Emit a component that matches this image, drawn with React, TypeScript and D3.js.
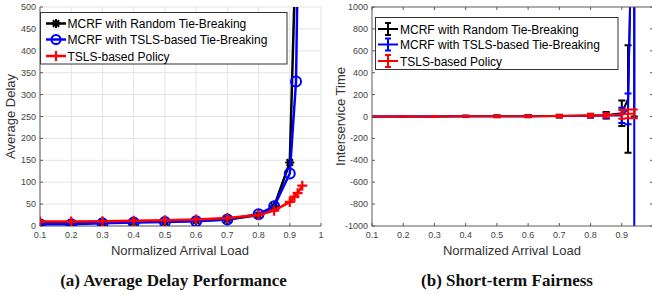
import { useEffect, useRef } from 'react'
import * as d3 from 'd3'

// (a) average delay
const randomLoads = [0.1, 0.2, 0.3, 0.4, 0.5, 0.6, 0.7, 0.8, 0.85, 0.9, 0.92]
const randomDelay = [7, 7, 8, 9, 10, 12, 15, 25, 45, 145, 650]
const tslsLoads = [0.1, 0.2, 0.3, 0.4, 0.5, 0.6, 0.7, 0.8, 0.85, 0.9, 0.92, 0.94]
const tslsDelay = [4, 4, 6, 8, 9, 11, 15, 27, 45, 120, 330, 1300]
const policyLoads = [0.1, 0.2, 0.3, 0.4, 0.5, 0.6, 0.7, 0.8, 0.85, 0.9, 0.915, 0.925, 0.94]
const policyDelay = [10, 10, 11, 12, 13, 15, 18, 25, 35, 55, 67, 75, 92]

// (b) interservice time (mean and error half-width)
const fairLoads = [0.1, 0.2, 0.3, 0.4, 0.5, 0.6, 0.7, 0.8, 0.85, 0.9, 0.92, 0.94]
const randomGap = [1, 1, 1, 2, 2, 3, 4, 8, 12, 30, 160, 2700]
const randomGapErr = [3, 3, 4, 5, 8, 10, 12, 18, 30, 117, 490, 2700]
const tslsGap = [1, 1, 1, 2, 2, 3, 4, 6, 10, 10, 70, 3000]
const tslsGapErr = [2, 2, 3, 4, 6, 8, 10, 15, 25, 70, 140, 6000]
const policyGap = [1, 1, 1, 2, 2, 3, 4, 8, 10, 20, 25, 25]
const policyGapErr = [2, 2, 3, 4, 6, 8, 10, 15, 20, 40, 40, 40]

const xTicks = [0.1, 0.2, 0.3, 0.4, 0.5, 0.6, 0.7, 0.8, 0.9, 1]
const delayTicks = d3.range(0, 501, 50)
const gapTicks = d3.range(-1000, 1001, 200)
const legendLabels = ['MCRF with Random Tie-Breaking', 'MCRF with TSLS-based Tie-Breaking', 'TSLS-based Policy']

const SANS = '"Liberation Sans", Arial, sans-serif'
const SERIF = '"Liberation Serif", "Times New Roman", serif'
const AXIS = '#5a5a5a'
const TICKTXT = '#444'

function App() {
  const ref = useRef<SVGSVGElement>(null)

  useEffect(() => {
    const svg = d3.select(ref.current)
    svg.selectAll('*').remove()

    const top = 7, bottom = 226

    // ---------- left chart ----------
    const x1 = d3.scaleLinear().domain([0.1, 1]).range([40, 321])
    const y1 = d3.scaleLinear().domain([0, 500]).range([bottom, top])

    const g1 = svg.append('g')
    // grid
    g1.selectAll('.vg').data(xTicks).enter().append('line')
      .attr('x1', (d) => x1(d)).attr('x2', (d) => x1(d)).attr('y1', top).attr('y2', bottom)
      .attr('stroke', '#e3e3e3').attr('stroke-width', 1)
    g1.selectAll('.hg').data(delayTicks).enter().append('line')
      .attr('x1', 40).attr('x2', 321).attr('y1', (d) => y1(d)).attr('y2', (d) => y1(d))
      .attr('stroke', '#e3e3e3').attr('stroke-width', 1)

    const ax1 = g1.append('g')
    ax1.append('line').attr('x1', 40).attr('x2', 40).attr('y1', top).attr('y2', bottom).attr('stroke', AXIS)
    ax1.append('line').attr('x1', 40).attr('x2', 321).attr('y1', bottom).attr('y2', bottom).attr('stroke', AXIS)
    ax1.selectAll('.yt').data(delayTicks).enter().append('line')
      .attr('x1', 40).attr('x2', 43).attr('y1', (d) => y1(d)).attr('y2', (d) => y1(d)).attr('stroke', AXIS)
    ax1.selectAll('.xt').data(xTicks).enter().append('line')
      .attr('x1', (d) => x1(d)).attr('x2', (d) => x1(d)).attr('y1', bottom).attr('y2', bottom - 3).attr('stroke', AXIS)
    ax1.selectAll('.yl').data(delayTicks).enter().append('text')
      .attr('x', 36).attr('y', (d) => y1(d) + 3).attr('text-anchor', 'end')
      .attr('font-family', SANS).attr('font-size', 9).attr('fill', TICKTXT).text((d) => d)
    ax1.selectAll('.xl').data(xTicks).enter().append('text')
      .attr('x', (d) => x1(d)).attr('y', 238).attr('text-anchor', 'middle')
      .attr('font-family', SANS).attr('font-size', 9).attr('fill', TICKTXT).text((d) => d3.format('~g')(d))

    svg.append('clipPath').attr('id', 'clipA').append('rect')
      .attr('x', 40).attr('y', top).attr('width', 281).attr('height', bottom - top)
    const plot1 = g1.append('g').attr('clip-path', 'url(#clipA)')

    const line1 = d3.line<[number, number]>().x((d) => x1(d[0])).y((d) => y1(d[1]))
    const randomPts = randomLoads.map((l, i) => [l, randomDelay[i]] as [number, number])
    const tslsPts = tslsLoads.map((l, i) => [l, tslsDelay[i]] as [number, number])
    const policyPts = policyLoads.map((l, i) => [l, policyDelay[i]] as [number, number])

    const star = (g: any, cx: number, cy: number, r: number, color: string) => {
      const d = r * 0.707
      const p = `M${cx - r},${cy}L${cx + r},${cy}M${cx},${cy - r}L${cx},${cy + r}` +
        `M${cx - d},${cy - d}L${cx + d},${cy + d}M${cx - d},${cy + d}L${cx + d},${cy - d}`
      g.append('path').attr('d', p).attr('stroke', color).attr('stroke-width', 2).attr('fill', 'none')
    }
    const plus = (g: any, cx: number, cy: number, r: number, color: string) => {
      g.append('path').attr('d', `M${cx - r},${cy}L${cx + r},${cy}M${cx},${cy - r}L${cx},${cy + r}`)
        .attr('stroke', color).attr('stroke-width', 2.2).attr('fill', 'none')
    }
    const circle = (g: any, cx: number, cy: number, r: number, color: string) => {
      g.append('circle').attr('cx', cx).attr('cy', cy).attr('r', r)
        .attr('stroke', color).attr('stroke-width', 2).attr('fill', 'none')
    }

    plot1.append('path').attr('d', line1(randomPts)).attr('stroke', '#000').attr('stroke-width', 2.5).attr('fill', 'none')
    randomPts.forEach((p) => star(plot1, x1(p[0]), y1(p[1]), 4.5, '#000'))
    plot1.append('path').attr('d', line1(tslsPts)).attr('stroke', '#0000ff').attr('stroke-width', 2.5).attr('fill', 'none')
    tslsPts.forEach((p) => circle(plot1, x1(p[0]), y1(p[1]), 5, '#0000ff'))
    plot1.append('path').attr('d', line1(policyPts)).attr('stroke', '#ff0000').attr('stroke-width', 2.5).attr('fill', 'none')
    policyPts.forEach((p) => plus(plot1, x1(p[0]), y1(p[1]), 5, '#ff0000'))

    // legend a
    const lg1 = g1.append('g')
    lg1.append('rect').attr('x', 40.5).attr('y', 12.5).attr('width', 246.5).attr('height', 51.5)
      .attr('fill', '#fff').attr('stroke', '#333').attr('stroke-width', 1)
    const legY1 = [23.5, 39.5, 56]
    const legCol = ['#000', '#0000ff', '#ff0000']
    legCol.forEach((c, i) => {
      lg1.append('line').attr('x1', 46).attr('x2', 66).attr('y1', legY1[i]).attr('y2', legY1[i])
        .attr('stroke', c).attr('stroke-width', 2.5)
      if (i === 0) star(lg1, 56, legY1[i], 4.5, c)
      if (i === 1) circle(lg1, 56, legY1[i], 4.5, c)
      if (i === 2) plus(lg1, 56, legY1[i], 5, c)
      lg1.append('text').attr('x', 67.5).attr('y', legY1[i] + 4.5)
        .attr('font-family', SANS).attr('font-size', 12).attr('fill', '#000').text(legendLabels[i])
    })

    svg.append('text').attr('x', 180).attr('y', 255).attr('text-anchor', 'middle')
      .attr('font-family', SANS).attr('font-size', 13).attr('fill', '#333').text('Normalized Arrival Load')
    svg.append('text').attr('transform', `translate(15,${(top + bottom) / 2}) rotate(-90)`).attr('text-anchor', 'middle')
      .attr('font-family', SANS).attr('font-size', 13).attr('fill', '#333').text('Average Delay')
    svg.append('text').attr('x', 173.5).attr('y', 286).attr('text-anchor', 'middle')
      .attr('font-family', SERIF).attr('font-weight', 'bold').attr('font-size', 17).attr('fill', '#111')
      .text('(a) Average Delay Performance')

    // ---------- right chart ----------
    const left2 = 372, right2 = 653
    const x2 = d3.scaleLinear().domain([0.1, 1]).range([left2, right2])
    const y2 = d3.scaleLinear().domain([-1000, 1000]).range([bottom, top])
    const g2 = svg.append('g')

    svg.append('clipPath').attr('id', 'clipB').append('rect')
      .attr('x', left2).attr('y', top).attr('width', right2 - left2).attr('height', bottom - top)
    const plot2 = g2.append('g').attr('clip-path', 'url(#clipB)')

    const line2 = d3.line<[number, number]>().x((d) => x2(d[0])).y((d) => y2(d[1]))
    const series2 = [
      { mean: randomGap, err: randomGapErr, color: '#000' },
      { mean: tslsGap, err: tslsGapErr, color: '#0000ff' },
      { mean: policyGap, err: policyGapErr, color: '#ff0000' },
    ]
    series2.forEach((s) => {
      const pts = fairLoads.map((l, i) => [l, s.mean[i]] as [number, number])
      plot2.append('path').attr('d', line2(pts)).attr('stroke', s.color).attr('stroke-width', 2).attr('fill', 'none')
      fairLoads.forEach((l, i) => {
        const cx = x2(l)
        const yt = y2(s.mean[i] + s.err[i])
        const yb = y2(s.mean[i] - s.err[i])
        plot2.append('path')
          .attr('d', `M${cx},${yt}L${cx},${yb}M${cx - 3.5},${yt}L${cx + 3.5},${yt}M${cx - 3.5},${yb}L${cx + 3.5},${yb}`)
          .attr('stroke', s.color).attr('stroke-width', 2).attr('fill', 'none')
      })
    })

    const ax2 = g2.append('g')
    ax2.append('rect').attr('x', left2).attr('y', top).attr('width', right2 - left2).attr('height', bottom - top)
      .attr('fill', 'none').attr('stroke', AXIS)
    ax2.selectAll('.yt').data(gapTicks).enter().append('path')
      .attr('d', (d) => `M${left2},${y2(d)}h3M${right2},${y2(d)}h-3`).attr('stroke', AXIS)
    ax2.selectAll('.xt').data(xTicks).enter().append('path')
      .attr('d', (d) => `M${x2(d)},${bottom}v-3M${x2(d)},${top}v3`).attr('stroke', AXIS)
    ax2.selectAll('.yl').data(gapTicks).enter().append('text')
      .attr('x', left2 - 4).attr('y', (d) => y2(d) + 3).attr('text-anchor', 'end')
      .attr('font-family', SANS).attr('font-size', 9).attr('fill', TICKTXT).text((d) => d)
    ax2.selectAll('.xl').data(xTicks.slice(0, -1)).enter().append('text')
      .attr('x', (d) => x2(d)).attr('y', 238).attr('text-anchor', 'middle')
      .attr('font-family', SANS).attr('font-size', 9).attr('fill', TICKTXT).text((d) => d3.format('~g')(d))

    // legend b
    const lg2 = g2.append('g')
    lg2.append('rect').attr('x', 375.5).attr('y', 17.5).attr('width', 242.5).attr('height', 52)
      .attr('fill', '#fff').attr('stroke', '#333').attr('stroke-width', 1)
    const legY2 = [29, 44.5, 61]
    legCol.forEach((c, i) => {
      const cy = legY2[i]
      lg2.append('path')
        .attr('d', `M378,${cy}L398,${cy}M388,${cy - 6}L388,${cy + 6}M385,${cy - 6}L391,${cy - 6}M385,${cy + 6}L391,${cy + 6}`)
        .attr('stroke', c).attr('stroke-width', 2).attr('fill', 'none')
      lg2.append('text').attr('x', 400).attr('y', cy + 4.5)
        .attr('font-family', SANS).attr('font-size', 12).attr('fill', '#000').text(legendLabels[i])
    })

    svg.append('text').attr('x', 512).attr('y', 255).attr('text-anchor', 'middle')
      .attr('font-family', SANS).attr('font-size', 13).attr('fill', '#333').text('Normalized Arrival Load')
    svg.append('text').attr('transform', `translate(345,${(top + bottom) / 2}) rotate(-90)`).attr('text-anchor', 'middle')
      .attr('font-family', SANS).attr('font-size', 13).attr('fill', '#333').text('Interservice Time')
    svg.append('text').attr('x', 507).attr('y', 286).attr('text-anchor', 'middle')
      .attr('font-family', SERIF).attr('font-weight', 'bold').attr('font-size', 17).attr('fill', '#111')
      .text('(b) Short-term Fairness')
  })

  return <svg ref={ref} width={652} height={295} style={{ position: 'absolute', left: 0, top: 0, background: '#fff' }} />
}

export default App
